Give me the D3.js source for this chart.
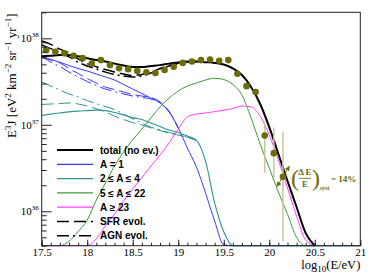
<!DOCTYPE html>
<html>
<head>
<meta charset="utf-8">
<script src="https://cdn.jsdelivr.net/npm/d3@7/dist/d3.min.js"></script>
<style>
  body { margin: 0; background: #fff; }
  svg { display: block; }
</style>
</head>
<body>
<script>
// energy grid, log10(E/eV)
var logE = [17.5, 17.6, 17.7, 17.8, 17.9, 18.0, 18.1, 18.2, 18.3, 18.4, 18.5, 18.6,
  18.7, 18.8, 18.9, 19.0, 19.1, 19.2, 19.3, 19.4, 19.5, 19.6, 19.7, 19.8, 19.9, 20.0,
  20.1, 20.2, 20.3, 20.4, 20.5, 20.6, 20.7, 20.8, 20.9, 21.0];

// E^3 J [eV^2 km^-2 sr^-1 yr^-1] on that grid
var totalNoEv = [6.2e37, 6.3e37, 6.4e37, 6.4e37, 6.2e37, 5.9e37, 5.6e37, 5.4e37, 5.1e37, 4.85e37, 4.66e37, 4.66e37,
  4.78e37, 4.9e37, 5.1e37, 5.25e37, 5.4e37, 5.4e37, 5.3e37, 5.2e37, 4.98e37, 4.5e37, 3.77e37, 2.74e37, 1.74e37, 9.4e36,
  4.6e36, 2.24e36, 1.12e36, 5.6e35, 2.5e35];
var totalSFR = [9.3e37, 8.5e37, 7.5e37, 6.8e37, 5.8e37, 5.1e37, 4.7e37, 4.36e37, 4.07e37, 3.86e37, 3.71e37, 3.82e37,
  4.07e37, 4.48e37, 4.85e37, 5.18e37, 5.35e37, 5.4e37];
var totalAGN = [8.4e37, 7.6e37, 6.85e37, 6.1e37, 5.3e37, 4.79e37, 4.42e37, 4.07e37, 3.82e37, 3.67e37, 3.57e37, 3.67e37,
  3.97e37, 4.42e37, 4.79e37, 5.1e37, 5.3e37, 5.4e37];

var protons = [6.15e37, 5.7e37, 5.3e37, 4.85e37, 4.48e37, 4.19e37, 3.87e37, 3.57e37, 3.3e37, 2.92e37, 2.59e37, 2.3e37,
  2.04e37, 1.79e37, 1.41e37, 9.2e36, 5.4e36, 3.25e36, 1.63e36, 7.7e35, 4.1e35, 2e35, 1e35, 1e35, 1e35, 1e35,
  1e35, 1e35, 1e35, 1e35, 1e35, 1e35, 1e35, 1e35, 1e35, 1e35];
var protonsSFR = [6.15e37, 5.6e37, 5.2e37, 4.48e37, 3.92e37, 3.43e37, 3.04e37, 2.73e37, 2.56e37, 2.39e37, 2.24e37, 2.15e37,
  2.07e37, 1.84e37, 1.43e37, 9.2e36];
var protonsAGN = [6.15e37, 5.3e37, 4.72e37, 4.07e37, 3.57e37, 3.17e37, 2.85e37, 2.59e37, 2.43e37, 2.27e37, 2.15e37, 2.07e37,
  1.99e37, 1.79e37, 1.41e37, 9.2e36];

var helium = [1.28e37, 1.33e37, 1.37e37, 1.41e37, 1.44e37, 1.46e37, 1.48e37, 1.46e37, 1.39e37, 1.3e37, 1.21e37, 1.15e37,
  1.05e37, 9.55e36, 8.7e36, 8.15e36, 7.4e36, 6.6e36, 3.8e36, 1.25e36, 5.8e35, 3.8e35, 2e35, 1e35, 1e35, 1e35,
  1e35, 1e35, 1e35, 1e35, 1e35, 1e35, 1e35, 1e35, 1e35, 1e35];
var heliumSFR = [1.72e37, 1.74e37, 1.76e37, 1.79e37, 1.74e37, 1.65e37, 1.54e37, 1.41e37, 1.26e37, 1.15e37, 1.06e37, 9.96e36,
  9.2e36, 8.6e36, 8.0e36, 7.6e36, 7.2e36, 6.6e36];
var heliumAGN = [3.13e37, 2.81e37, 2.52e37, 2.27e37, 2.1e37, 1.91e37, 1.76e37, 1.63e37, 1.5e37, 1.33e37, 1.17e37, 1.05e37,
  9.4e36, 8.7e36, 8.15e36, 7.7e36, 7.2e36, 6.6e36];

var cno = [1e35, 2e35, 3.5e35, 4.5e35, 5.8e35, 7.9e35, 1.35e36, 2.12e36, 3.34e36, 4.85e36, 6.7e36, 8.9e36,
  1.2e37, 1.61e37, 2.04e37, 2.46e37, 2.81e37, 3.04e37, 3.3e37, 3.45e37, 3.34e37, 2.92e37, 2.21e37, 1.2e37, 6.0e36, 3.16e36,
  1.67e36, 9.3e35, 5.0e35, 2e35, 1e35];
var heavy = [1e35, 1e35, 1e35, 1e35, 1e35, 2e35, 4.8e35, 6.8e35, 9.3e35, 1.32e36, 1.81e36, 2.46e36,
  3.34e36, 4.48e36, 6.2e36, 8.9e36, 1.23e37, 1.33e37, 1.37e37, 1.42e37, 1.48e37, 1.54e37, 1.65e37, 1.61e37, 1.26e37, 7.6e36,
  3.92e36, 1.86e36, 8.8e35, 4.66e35, 2e35];

// measured points
var dataLogE = [17.55, 17.65, 17.75, 17.85, 17.95, 18.05, 18.15, 18.25, 18.35, 18.45, 18.55, 18.65, 18.75, 18.85,
  18.95, 19.05, 19.15, 19.25, 19.35, 19.45, 19.55, 19.65, 19.75, 19.85, 19.95, 20.05, 20.15];
var dataFlux = [7.3e37, 7.0e37, 6.7e37, 6.3e37, 5.9e37, 5.1e37, 5.6e37, 4.9e37, 4.5e37, 4.4e37, 4.2e37, 4.05e37, 3.97e37, 4.3e37,
  4.7e37, 5.2e37, 5.4e37, 5.6e37, 5.7e37, 5.5e37, 5.6e37, 3.9e37, 2.8e37, 2.4e37, 7.5e36, 4.7e36, 2.5e36];

// systematic bands on the last bins
var sysLogE = [19.95, 20.05, 20.15];
var sysHigh = [1.09e37, 9.3e36, 8.3e36];
var sysLow = [2.8e36, 2.4e36, 4.5e35];

var xTicks = [17.5, 18, 18.5, 19, 19.5, 20, 20.5, 21];
var xTickLabels = ["17.5", "18", "18.5", "19", "19.5", "20", "20.5", "21"];
var yTicks = [1e36, 1e37, 1e38];
var yTickExp = ["36", "37", "38"];

var legendLabels = ["total (no ev.)", "A = 1", "2 \u2264 A \u2264 4", "5 \u2264 A \u2264 22", "A \u2265 23", "SFR evol.", "AGN evol."];

var blue = "#3a3aff", teal = "#2f9494", green = "#3d9a3d", magenta = "#ff40ff", olive = "#6b6b08";
var sfrDash = "12,5", agnDash = "12,4,2,4";

var width = 374, height = 279;
var margin = {top: 12.3, right: 13.7, bottom: 33.3, left: 41.7};
var w = width - margin.left - margin.right;
var h = height - margin.top - margin.bottom;

var svg = d3.select("body").append("svg").attr("width", width).attr("height", height);
var g = svg.append("g").attr("transform", "translate(" + margin.left + "," + margin.top + ")");

var x = d3.scaleLinear().domain([17.5, 21]).range([0, w]);
var y = d3.scaleLog().domain([4e35, 2e38]).range([h, 0]);

// values under the axis minimum get drawn on the frame, like ROOT does
function linePath(values) {
  return d3.line()
    .defined(function(d) { return d != null; })
    .x(function(d, i) { return x(logE[i]); })
    .y(function(d) { return Math.min(y(d), h); })
    .curve(d3.curveMonotoneX)(values);
}

function drawCurve(values, color, lw, dash) {
  g.append("path")
    .attr("d", linePath(values))
    .attr("fill", "none")
    .attr("stroke", color)
    .attr("stroke-width", lw)
    .attr("stroke-dasharray", dash);
}

drawCurve(protonsSFR, blue, 1, sfrDash);
drawCurve(protonsAGN, blue, 1, agnDash);
drawCurve(heliumSFR, teal, 1, sfrDash);
drawCurve(heliumAGN, teal, 1, agnDash);
drawCurve(protons, blue, 1, null);
drawCurve(helium, teal, 1.1, null);
drawCurve(cno, green, 1, null);
drawCurve(heavy, magenta, 1, null);
drawCurve(totalSFR, "#000", 1.5, sfrDash);
drawCurve(totalAGN, "#000", 1.5, agnDash);
drawCurve(totalNoEv, "#000", 2, null);

// systematic bars
g.selectAll(".sys")
  .data(sysLogE)
  .enter().append("line")
  .attr("class", "sys")
  .attr("x1", function(d) { return x(d); })
  .attr("x2", function(d) { return x(d); })
  .attr("y1", function(d, i) { return y(sysHigh[i]); })
  .attr("y2", function(d, i) { return y(sysLow[i]); })
  .attr("stroke", "#c9c59a")
  .attr("stroke-width", 1.5);

g.selectAll(".pt")
  .data(dataLogE)
  .enter().append("circle")
  .attr("class", "pt")
  .attr("cx", function(d) { return x(d); })
  .attr("cy", function(d, i) { return y(dataFlux[i]); })
  .attr("r", 3.3)
  .attr("fill", olive);

// energy scale annotation
svg.append("defs").append("marker")
  .attr("id", "head")
  .attr("viewBox", "0 0 6 6")
  .attr("refX", 5).attr("refY", 3)
  .attr("markerWidth", 5).attr("markerHeight", 5)
  .attr("orient", "auto-start-reverse")
  .append("path").attr("d", "M0,0L6,3L0,6z").attr("fill", olive);

g.append("line")
  .attr("x1", x(20.085)).attr("y1", y(1.95e36))
  .attr("x2", x(20.22)).attr("y2", y(3.3e36))
  .attr("stroke", olive).attr("stroke-width", 1)
  .attr("marker-start", "url(#head)")
  .attr("marker-end", "url(#head)");

var ann = g.append("g")
  .attr("fill", olive)
  .attr("font-family", "Liberation Serif")
  .attr("font-weight", "bold")
  .attr("transform", "translate(" + (x(20.15) + 8) + "," + (y(2.5e36) + 1) + ")");
ann.append("text").attr("x", 0).attr("y", 8).attr("font-size", 24).attr("font-weight", "normal").text("(");
ann.append("text").attr("x", 14).attr("y", -2.5).attr("font-size", 9).attr("text-anchor", "middle").text("\u0394 E");
ann.append("line").attr("x1", 8).attr("x2", 20).attr("y1", 0.5).attr("y2", 0.5).attr("stroke", olive).attr("stroke-width", 0.8);
ann.append("text").attr("x", 14).attr("y", 9).attr("font-size", 9).attr("text-anchor", "middle").text("E");
ann.append("text").attr("x", 21).attr("y", 8).attr("font-size", 24).attr("font-weight", "normal").text(")");
ann.append("text").attr("x", 29).attr("y", 12).attr("font-size", 6).text("syst");
ann.append("text").attr("x", 40).attr("y", 4).attr("font-size", 9).text("= 14%");

// axes, ticks pointing inwards
var xMajor = d3.axisBottom(x)
  .tickValues(xTicks)
  .tickSize(-6)
  .tickPadding(3)
  .tickFormat(function(d, i) { return xTickLabels[i]; });
var xMinor = d3.axisBottom(x).ticks(35).tickSize(-3).tickFormat("");

g.append("g").attr("transform", "translate(0," + h + ")").call(xMinor);
g.append("g").attr("transform", "translate(0," + h + ")").call(xMajor);

var yMinorVals = [];
[35, 36, 37, 38].forEach(function(e) {
  for (var k = 2; k <= 9; k++) {
    var v = k * Math.pow(10, e);
    if (v >= 4e35 && v <= 2e38) yMinorVals.push(v);
  }
});
var yMinor = d3.axisLeft(y).tickValues(yMinorVals).tickSize(-5).tickFormat("");
var yMajor = d3.axisLeft(y).tickValues(yTicks).tickSize(-10).tickPadding(3).tickFormat("");

g.append("g").call(yMinor);
var yg = g.append("g").call(yMajor);

yg.selectAll(".tick text").each(function(d, i) {
  var t = d3.select(this);
  t.append("tspan").text("10");
  t.append("tspan").attr("dy", -5).attr("font-size", 7).text(yTickExp[i]);
});

svg.selectAll(".domain").remove();
svg.selectAll(".tick line").attr("stroke", "#222");
svg.selectAll(".tick text").attr("font-family", "Liberation Serif").attr("font-size", 11).attr("fill", "#000");

g.append("rect")
  .attr("width", w).attr("height", h)
  .attr("fill", "none").attr("stroke", "#222").attr("stroke-width", 1);

// axis titles
function richText(sel, parts) {
  parts.forEach(function(p) {
    var ts = sel.append("tspan").text(p[0]);
    if (p[1] == "sup") ts.attr("dy", -5).attr("font-size", 9);
    if (p[1] == "sub") ts.attr("dy", 3).attr("font-size", 9);
    if (p[1] == "down") ts.attr("dy", 5);
    if (p[1] == "up") ts.attr("dy", -3);
  });
}

var yTitle = svg.append("text")
  .attr("transform", "translate(16,13.5) rotate(-90)")
  .attr("text-anchor", "end")
  .attr("font-family", "Liberation Serif")
  .attr("font-size", 13);
richText(yTitle, [["E"], ["3", "sup"], ["J [eV", "down"], ["2", "sup"], [" km", "down"], ["\u22122", "sup"],
  [" sr", "down"], ["\u22121", "sup"], [" yr", "down"], ["\u22121", "sup"], ["]", "down"]]);

var xTitle = svg.append("text")
  .attr("x", margin.left + w).attr("y", 269)
  .attr("text-anchor", "end")
  .attr("font-family", "Liberation Serif")
  .attr("font-size", 12.5);
richText(xTitle, [["log"], ["10", "sub"], ["(E/eV)", "up"]]);

// legend
var legendColors = ["#000", blue, teal, green, magenta, "#000", "#000"];
var legendWidths = [2, 1.3, 1.3, 1.3, 1.3, 1.5, 1.5];
var legendDash = [null, null, null, null, null, sfrDash, agnDash];

var leg = svg.append("g");
legendLabels.forEach(function(lab, i) {
  var ly = 150 + i * 14.3;
  leg.append("line")
    .attr("x1", 57).attr("x2", 93).attr("y1", ly).attr("y2", ly)
    .attr("stroke", legendColors[i])
    .attr("stroke-width", legendWidths[i])
    .attr("stroke-dasharray", legendDash[i]);
  leg.append("text")
    .attr("x", 100).attr("y", ly + 3.6)
    .attr("font-family", "Liberation Sans")
    .attr("font-weight", "bold")
    .attr("font-size", 10)
    .text(lab);
});
</script>
</body>
</html>
